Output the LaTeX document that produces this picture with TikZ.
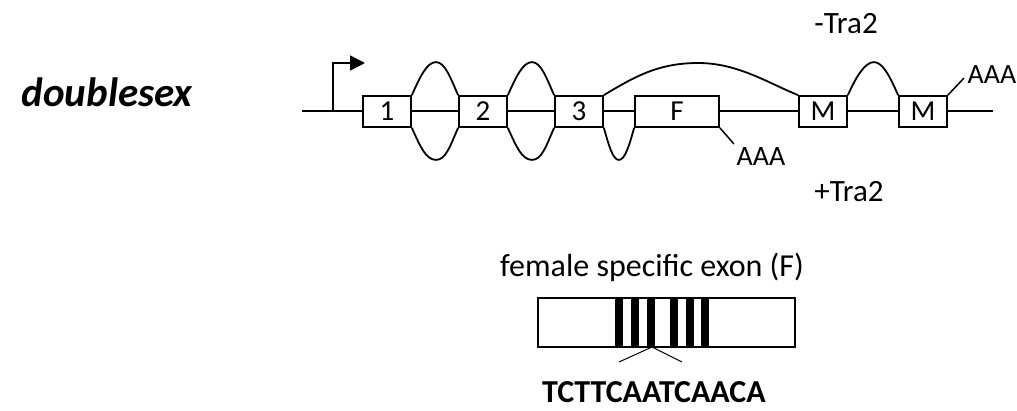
\documentclass[tikz,border=0pt]{standalone}
\usepackage{fontspec}
\setmainfont{Carlito}
\usetikzlibrary{arrows.meta,calc}
\tikzset{
  exon/.style={draw, line width=1.8pt, fill=white, minimum width=48pt, minimum height=31pt,
               inner sep=0pt, font=\fontsize{29}{31}\selectfont},
  gene/.style={line width=1.8pt},
  splice/.style={line width=1.8pt},
  tail/.style={line width=1.5pt},
  lbl/.style={inner sep=0pt, font=\fontsize{28}{30}\selectfont},
}
\begin{document}
\begin{tikzpicture}[x=1pt,y=-1pt]
\useasboundingbox (0,0) rectangle (1017,410);

% gene title
\node[inner sep=0pt, font=\fontsize{41}{43}\selectfont\bfseries\itshape] (title) at (107,92) {doublesex};

% backbone of the gene
\coordinate (g0) at (302,111);
\coordinate (g1) at (993,111);
\draw[gene] (g0) -- (g1);

% exons
\node[exon] (e1) at (387,111.5) {1};
\node[exon] (e2) at (483,111.5) {2};
\node[exon] (e3) at (579,111.5) {3};
\node[exon, minimum width=84pt] (eF) at (677,111.5) {F};
\node[exon] (m1) at (823,111.5) {M};
\node[exon] (m2) at (923,111.5) {M};

% transcription start
\coordinate (tss) at (333,111);
\draw[gene, -{Triangle[length=15pt,width=15pt]}] (tss) -- ++(0,-48) -- ++(32,0);

% male splicing (above)
\draw[splice] (e1.north east) .. controls +(8,-18) and +(-9,0) .. ++(24,-33)
  .. controls +(9,0) and +(-8,-18) .. (e2.north west);
\draw[splice] (e2.north east) .. controls +(8,-18) and +(-9,0) .. ++(24,-33)
  .. controls +(9,0) and +(-8,-18) .. (e3.north west);
\draw[splice] (e3.north east) .. controls +(30,-18) and +(-40,0) .. (698,63)
  .. controls +(40,0) and +(-30,-12) .. (m1.north west);
\draw[splice] (m1.north east) .. controls +(8,-18) and +(-9,0) .. ++(26,-33)
  .. controls +(9,0) and +(-8,-18) .. (m2.north west);

% female splicing (below)
\draw[splice] (e1.south east) .. controls +(8,18) and +(-10,0) .. ++(24,32)
  .. controls +(10,0) and +(-8,18) .. (e2.south west);
\draw[splice] (e2.south east) .. controls +(8,18) and +(-10,0) .. ++(24,32)
  .. controls +(10,0) and +(-8,18) .. (e3.south west);
\draw[splice] (e3.south east) .. controls +(5,18) and +(-6,0) .. ++(15,32)
  .. controls +(6,0) and +(-5,18) .. (eF.south west);

% poly(A) tails
\draw[tail] (eF.south east) -- ++(14,16) coordinate (pa1);
\node[lbl] (aaa1) at (761,157) {AAA};
\draw[tail] (m2.north east) -- ++(16,-17) coordinate (pa2);
\node[lbl] (aaa2) at (992,75) {AAA};

% regulator labels
\node[lbl, font=\fontsize{31}{33}\selectfont] (minus) at (846,24) {-Tra2};
\node[lbl, font=\fontsize{31}{33}\selectfont] (plus) at (849,192) {+Tra2};

% female specific exon with repeat elements
\node[lbl, font=\fontsize{32}{34}\selectfont] (fse) at (652,267) {female specific exon (F)};
\node[draw, line width=1.8pt, minimum width=257pt, minimum height=49pt, inner sep=0pt] (fbox) at (666.5,322.5) {};
\foreach \x in {615,631,647,670,686,701}
  \fill[black] (\x,298) rectangle ++(8,49);
\coordinate (vtip) at (652,347);
\coordinate (vl) at (619,362);
\coordinate (vr) at (682,362);
\draw[line width=1pt] (vl) -- (vtip) -- (vr);
\node[lbl, font=\fontsize{32}{34}\selectfont\bfseries] (seq) at (654,392) {TCTTCAATCAACA};
\end{tikzpicture}
\end{document}
